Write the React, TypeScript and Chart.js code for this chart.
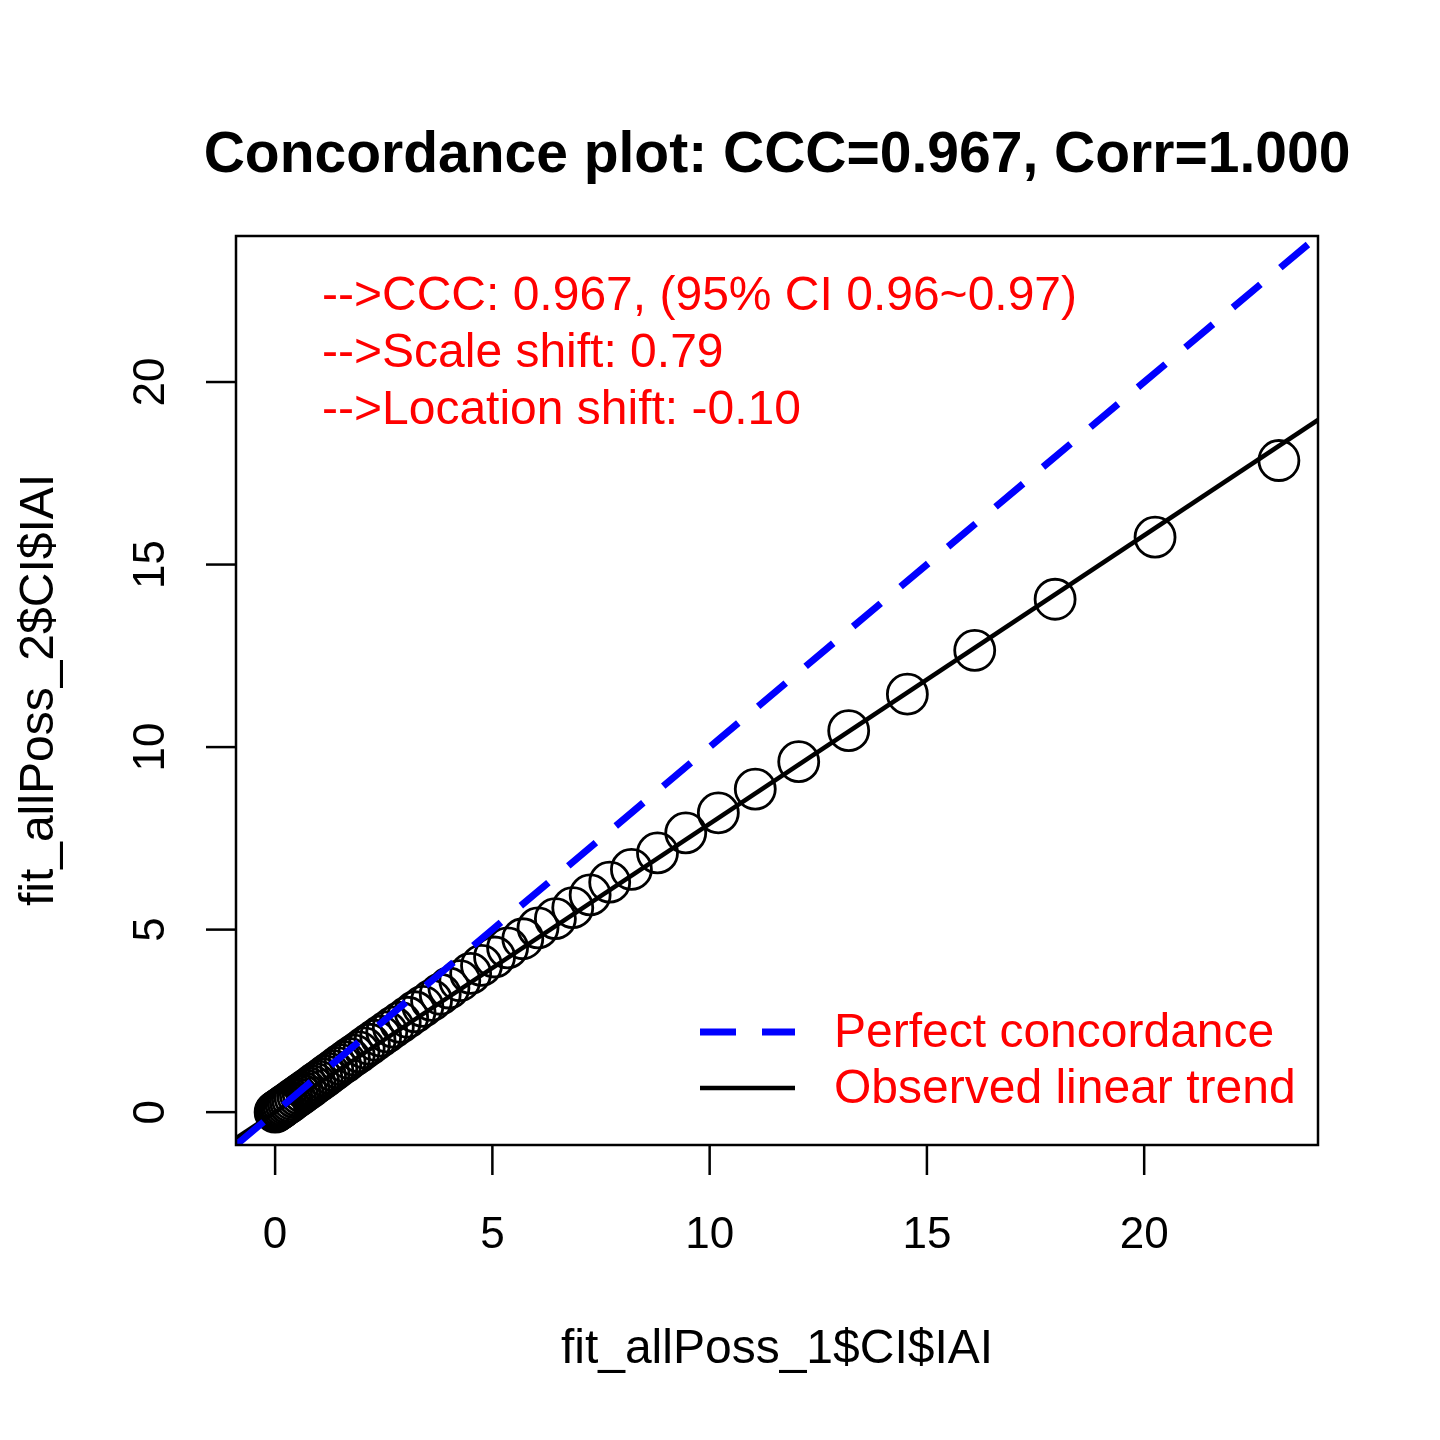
import React, { useEffect, useRef } from 'react';
import { Chart, registerables } from 'chart.js';

Chart.register(...registerables);

// observed pairs
const xValues = [23.1, 20.25, 17.95, 16.1, 14.55, 13.2, 12.05, 11.05, 10.2, 9.45, 8.8, 8.2, 7.7, 7.25, 6.85, 6.45, 6.05, 5.7, 5.35, 5.05, 4.75, 4.5, 4.25, 4.0, 3.8, 3.6, 3.4, 3.22, 3.05, 2.88, 2.72, 2.57, 2.43, 2.3, 2.17, 2.05, 1.93, 1.82, 1.71, 1.61, 1.51, 1.42, 1.33, 1.24, 1.16, 1.08, 1.0, 0.92, 0.85, 0.78, 0.71, 0.64, 0.58, 0.52, 0.46, 0.4, 0.35, 0.3, 0.25, 0.2, 0.16, 0.12, 0.08, 0.05, 0.02, 0.0];
const yValues = [17.85, 15.75, 14.05, 12.65, 11.45, 10.45, 9.6, 8.85, 8.2, 7.65, 7.1, 6.65, 6.3, 5.95, 5.6, 5.3, 5.05, 4.75, 4.5, 4.25, 4.02, 3.8, 3.6, 3.4, 3.23, 3.06, 2.9, 2.75, 2.6, 2.46, 2.33, 2.2, 2.08, 1.97, 1.86, 1.76, 1.65, 1.56, 1.47, 1.38, 1.3, 1.22, 1.14, 1.06, 0.99, 0.92, 0.85, 0.79, 0.72, 0.66, 0.6, 0.54, 0.49, 0.44, 0.39, 0.34, 0.29, 0.25, 0.21, 0.17, 0.13, 0.1, 0.07, 0.04, 0.02, 0.0];
const axisMin = -0.9;
const axisMax = 24.0;
const tickValues = [0, 5, 10, 15, 20];
const trendSlope = 0.79;
const infoLines = ['-->CCC: 0.967, (95% CI 0.96~0.97)', '-->Scale shift: 0.79', '-->Location shift: -0.10'];
const legendItems = [
  { label: 'Perfect concordance', color: '#0000ff', dash: [36, 26] },
  { label: 'Observed linear trend', color: '#000000', dash: [] as number[] },
];

const FONT = '"Liberation Sans", Arial, sans-serif';

const baseDecor = {
  id: 'baseDecor',
  afterDraw(chart: Chart) {
    const { ctx, chartArea: a } = chart;
    const xs = chart.scales.x;
    const ys = chart.scales.y;
    ctx.save();
    ctx.strokeStyle = '#000';
    ctx.lineWidth = 2.5;
    ctx.strokeRect(a.left, a.top, a.right - a.left, a.bottom - a.top);
    ctx.fillStyle = '#000';
    ctx.font = `44px ${FONT}`;
    ctx.textAlign = 'center';
    ctx.textBaseline = 'middle';
    tickValues.forEach((v) => {
      const px = xs.getPixelForValue(v);
      ctx.beginPath();
      ctx.moveTo(px, a.bottom);
      ctx.lineTo(px, a.bottom + 30);
      ctx.stroke();
      ctx.fillText(String(v), px, 1236);
      const py = ys.getPixelForValue(v);
      ctx.beginPath();
      ctx.moveTo(a.left, py);
      ctx.lineTo(a.left - 30, py);
      ctx.stroke();
      ctx.save();
      ctx.translate(152, py);
      ctx.rotate(-Math.PI / 2);
      ctx.fillText(String(v), 0, 0);
      ctx.restore();
    });
    ctx.font = `48px ${FONT}`;
    ctx.fillText('fit_allPoss_1$CI$IAI', 777, 1350);
    ctx.save();
    ctx.translate(40, 690);
    ctx.rotate(-Math.PI / 2);
    ctx.fillText('fit_allPoss_2$CI$IAI', 0, 0);
    ctx.restore();
    ctx.font = `bold 57px ${FONT}`;
    ctx.fillText('Concordance plot: CCC=0.967, Corr=1.000', 777, 156);

    ctx.fillStyle = '#ff0000';
    ctx.font = `48px ${FONT}`;
    ctx.textAlign = 'left';
    infoLines.forEach((t, i) => ctx.fillText(t, 322, 297 + i * 57));

    legendItems.forEach((it, i) => {
      const y = 1032 + i * 56;
      ctx.strokeStyle = it.color;
      ctx.lineWidth = i === 0 ? 7 : 4.5;
      ctx.setLineDash(it.dash);
      ctx.beginPath();
      ctx.moveTo(700, y);
      ctx.lineTo(795, y);
      ctx.stroke();
      ctx.setLineDash([]);
      ctx.fillText(it.label, 834, y + 2);
    });
    ctx.restore();
  },
};

const App: React.FC = () => {
  const chartRef = useRef<HTMLCanvasElement>(null);
  const chartInstance = useRef<Chart | null>(null);

  useEffect(() => {
    if (!chartRef.current) return;
    if (chartInstance.current) chartInstance.current.destroy();
    const ctx = chartRef.current.getContext('2d');
    if (!ctx) return;
    chartInstance.current = new Chart(ctx, {
      type: 'scatter',
      data: {
        datasets: [
          {
            label: 'points',
            data: xValues.map((x, i) => ({ x, y: yValues[i] })),
            pointRadius: 20,
            pointBorderWidth: 2.8,
            pointBorderColor: '#000',
            pointBackgroundColor: 'rgba(0,0,0,0)',
            order: 3,
          },
          {
            label: 'Observed linear trend',
            data: [axisMin, axisMax].map((x) => ({ x, y: trendSlope * x })),
            showLine: true,
            borderColor: '#000',
            borderWidth: 4.5,
            pointRadius: 0,
            order: 2,
          },
          {
            label: 'Perfect concordance',
            data: [axisMin, axisMax].map((x) => ({ x, y: x })),
            showLine: true,
            borderColor: '#0000ff',
            borderWidth: 7,
            borderDash: [36, 26],
            pointRadius: 0,
            order: 1,
          },
        ],
      },
      options: {
        responsive: false,
        animation: false,
        layout: { padding: { left: 236, right: 122, top: 236, bottom: 295 } },
        plugins: { legend: { display: false }, tooltip: { enabled: false } },
        scales: {
          x: { type: 'linear', min: axisMin, max: axisMax, display: false },
          y: { type: 'linear', min: axisMin, max: axisMax, display: false },
        },
      },
      plugins: [baseDecor],
    });
    return () => {
      if (chartInstance.current) {
        chartInstance.current.destroy();
        chartInstance.current = null;
      }
    };
  }, []);

  return (
    <div style={{ position: 'fixed', top: 0, left: 0, width: 1440, height: 1440, background: '#fff' }}>
      <canvas ref={chartRef} width={1440} height={1440} style={{ width: 1440, height: 1440 }} />
    </div>
  );
};

export default App;
